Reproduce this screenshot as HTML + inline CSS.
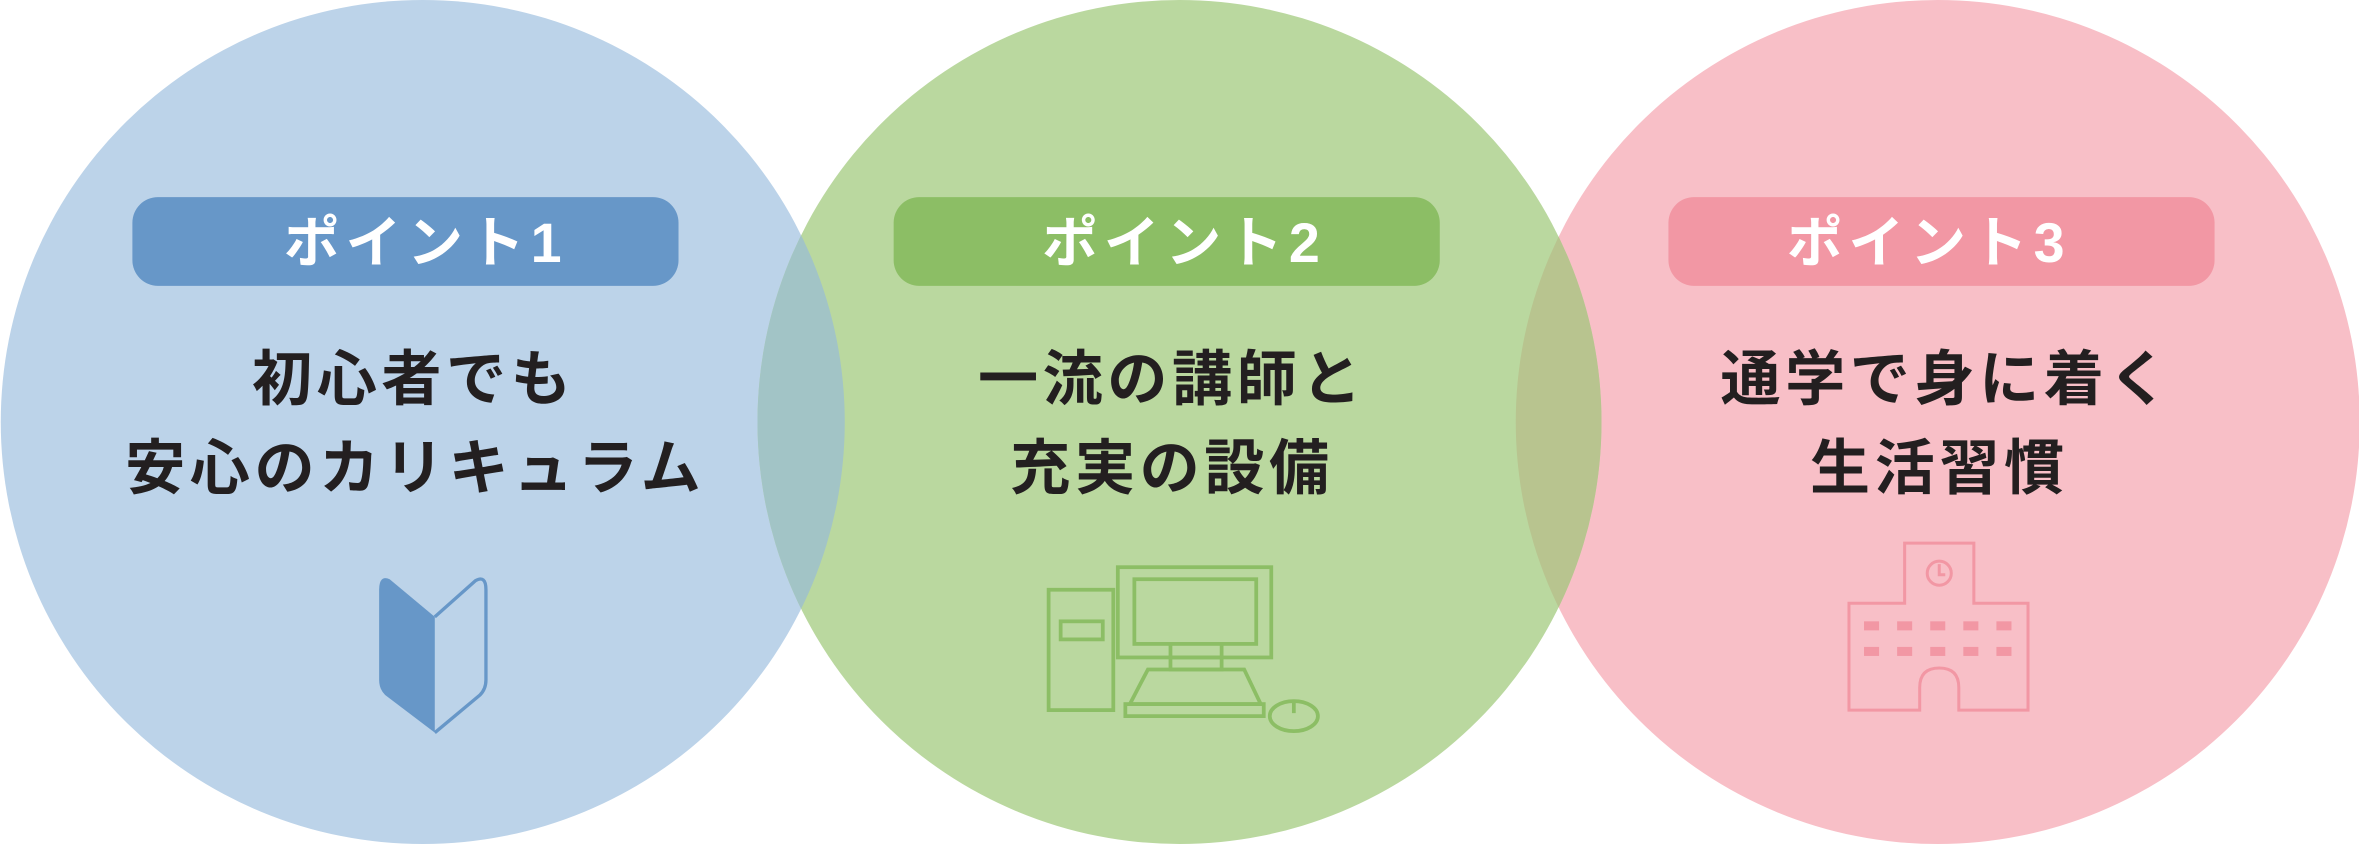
<!DOCTYPE html>
<html><head><meta charset="utf-8"><style>
html,body{margin:0;padding:0;background:#fff;}
svg{display:block;}
text{font-family:"Liberation Sans","Noto Sans CJK JP",sans-serif;font-weight:bold;}
</style></head><body>
<svg width="2359" height="844" viewBox="0 0 1568 561" xmlns="http://www.w3.org/2000/svg">
<defs>
<clipPath id="cb"><circle cx="281" cy="280.5" r="280.5"/></clipPath>
<clipPath id="cp"><circle cx="1288" cy="280.5" r="280.5"/></clipPath>
</defs>
<circle cx="281" cy="280.5" r="280.5" fill="#bcd3e9"/>
<circle cx="1288" cy="280.5" r="280.5" fill="#f8bfc7"/>
<circle cx="784" cy="280.5" r="280.5" fill="#bad89f"/>
<circle cx="784" cy="280.5" r="280.5" fill="#a2c4c6" clip-path="url(#cb)"/>
<circle cx="784" cy="280.5" r="280.5" fill="#b8c48f" clip-path="url(#cp)"/>

<rect x="88" y="131" width="363" height="59" rx="17" fill="#6797c8"/>
<rect x="594" y="131" width="363" height="59" rx="17" fill="#8cbe65"/>
<rect x="1109" y="131" width="363" height="59" rx="17" fill="#f297a4"/>
<g fill="#fff" font-size="37" text-anchor="middle" letter-spacing="4">
<text x="283" y="174">ポイント1</text>
<text x="787" y="174">ポイント2</text>
<text x="1282" y="174">ポイント3</text>
</g>
<g fill="#231f20" font-size="40" text-anchor="middle" letter-spacing="3">
<text x="275" y="266">初心者でも</text>
<text x="276" y="325">安心のカリキュラム</text>
<text x="779" y="266">一流の講師と</text>
<text x="779" y="325">充実の設備</text>
<text x="1294" y="266">通学で身に着く</text>
<text x="1289" y="325">生活習慣</text>
</g>

<path d="M289,410 L259,385 Q252,382 252,392 L252,452 Q252,458 256,462 L289,487 Z" fill="#6797c8"/>
<path d="M289,410 L316,386 Q323,382 323,392 L323,452 Q323,458 319,462 L289,487" fill="none" stroke="#6797c8" stroke-width="2.2"/>

<g fill="none" stroke="#8cbe65" stroke-width="2.5">
<rect x="697" y="392" width="43" height="80"/>
<rect x="705" y="413" width="28" height="12"/>
<rect x="743" y="377" width="102" height="60"/>
<rect x="754" y="385" width="81" height="43"/>
<rect x="778" y="437" width="34" height="8"/>
<line x1="778" y1="428" x2="778" y2="437"/><line x1="812" y1="428" x2="812" y2="437"/>
<path d="M763,445 L827,445 L838,468 L751,468 Z"/>
<rect x="748" y="468" width="92" height="8"/>
<ellipse cx="860" cy="476" rx="16" ry="10"/>
<line x1="860" y1="466" x2="860" y2="474"/>
</g>

<g fill="none" stroke="#f297a4" stroke-width="2">
<path d="M1229,472 L1229,401 L1266,401 L1266,361 L1312,361 L1312,401 L1348,401 L1348,472 L1302,472 L1302,457 Q1302,444 1289,444 Q1276,444 1276,457 L1276,472 Z"/>
<circle cx="1289" cy="381" r="8"/>
<path d="M1289,375 L1289,382 L1293,382"/>
</g>
<g fill="#f297a4">
<rect x="1239" y="413" width="10" height="6"/><rect x="1261" y="413" width="10" height="6"/><rect x="1283" y="413" width="10" height="6"/><rect x="1305" y="413" width="10" height="6"/><rect x="1327" y="413" width="10" height="6"/>
<rect x="1239" y="430" width="10" height="6"/><rect x="1261" y="430" width="10" height="6"/><rect x="1283" y="430" width="10" height="6"/><rect x="1305" y="430" width="10" height="6"/><rect x="1327" y="430" width="10" height="6"/>
</g>
</svg>
</body></html>
